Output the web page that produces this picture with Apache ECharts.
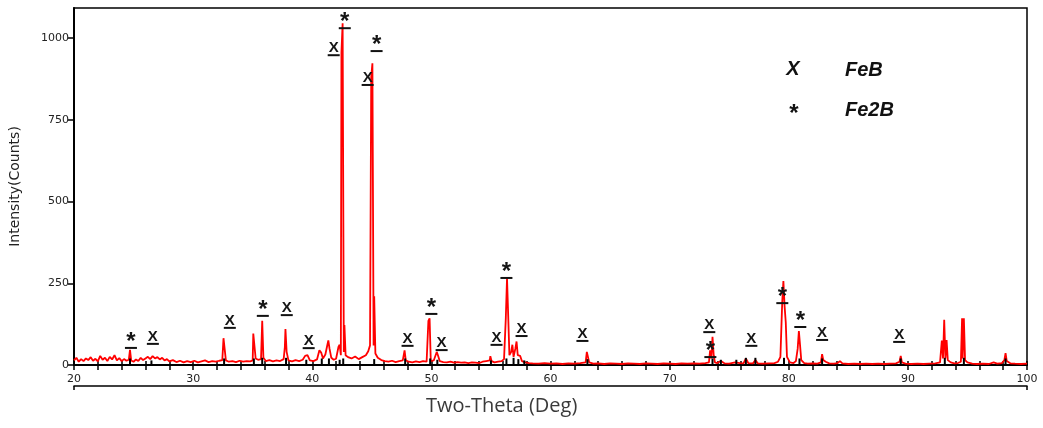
<!DOCTYPE html>
<html>
<head>
<meta charset="utf-8">
<script src="https://cdn.jsdelivr.net/npm/echarts@6/dist/echarts.min.js"></script>
<style>
  html, body { margin: 0; padding: 0; background: #fff; }
  #xrd { width: 1043px; height: 428px; }
</style>
</head>
<body>
<div id="xrd"></div>
<script>
var scanLow = [
  [20.0,14],[20.2,22],[20.4,10],[20.6,18],[20.8,12],[21.0,20],[21.2,15],[21.4,24],[21.6,13],[21.8,19],
  [22.0,11],[22.2,28],[22.4,16],[22.6,22],[22.8,12],[23.0,25],[23.2,17],[23.4,30],[23.6,14],[23.8,21],
  [24.0,12],[24.2,18],[24.4,13],[24.6,16],[24.7,46],[24.8,14],[25.0,10],[25.2,17],[25.4,12],[25.6,22],
  [25.8,15],[26.0,20],[26.2,25],[26.4,18],[26.6,27],[26.8,20],[27.0,24],[27.2,17],[27.4,22],[27.6,14],
  [27.8,18],[28.0,11],[28.3,15],[28.6,9],[28.9,13],[29.2,8],[29.5,12],[29.8,9],[30.1,13],[30.4,8],
  [30.7,11],[31.0,14],[31.3,9],[31.6,12],[31.9,10],[32.2,13],[32.45,15],[32.55,82],[32.65,86],[32.75,14],
  [33.0,10],[33.3,12],[33.6,9],[33.9,13],[34.2,10],[34.5,12],[34.8,11],[35.0,14],[35.05,96],[35.15,100],
  [35.25,20],[35.45,16],[35.7,18],[35.8,135],[35.9,22],[36.1,12],[36.4,15],[36.7,11],[37.0,14],[37.3,12],
  [37.6,18],[37.7,55],[37.75,110],[37.85,40],[38.0,14],[38.3,11],[38.6,15],[38.9,12],[39.2,16],[39.4,28],
  [39.6,30],[39.8,14],[40.1,12],[40.4,17],[40.6,45],[40.75,38],[40.9,20],[41.1,32],[41.25,58],[41.35,75],
  [41.45,50],[41.6,22],[41.8,16],[42.0,19],[42.2,55],[42.3,62],[42.4,30],[42.45,955],[42.55,1045],[42.65,40],
  [42.7,122],[42.8,30],[43.0,24],[43.3,20],[43.6,26],[43.9,18],[44.2,24],[44.5,30],[44.7,42],[44.85,60],
  [44.95,880],[45.05,923],[45.15,60],[45.2,210],[45.3,35],[45.5,22],[45.8,15],[46.1,12]
];
var scanMid = [
  [46.4,10],[46.7,13],[47.0,9],[47.3,12],[47.6,14],[47.75,45],[47.85,14],[48.1,10],[48.4,8],[48.7,11],
  [49.0,9],[49.3,12],[49.6,10],[49.75,135],[49.85,143],[49.95,12],[50.2,14],[50.45,40],[50.55,30],[50.7,12],
  [51.0,9],[51.3,8],[51.6,10],[51.9,7],[52.2,9],[52.5,7],[52.8,8],[53.1,6],[53.4,8],[53.7,7],
  [54.0,6],[54.3,10],[54.6,12],[54.9,14],[54.95,27],[55.05,12],[55.3,8],[55.6,10],[55.9,12],[56.1,18],
  [56.25,145],[56.35,265],[56.45,150],[56.55,30],[56.7,40],[56.8,62],[56.9,25],[57.05,50],[57.15,72],[57.25,30],
  [57.45,28],[57.6,12],[57.9,8],[58.2,6],[58.5,5],[59.0,4],[59.5,6],[60.0,4],[60.5,5],[61.0,3],
  [61.5,5],[62.0,4],[62.5,6],[62.95,8],[63.05,40],[63.15,38],[63.25,8],[63.6,4],[64.0,5],[64.5,3],
  [65.0,5],[65.5,4],[66.0,3],[66.5,5],[67.0,4],[67.5,3],[68.0,5],[68.5,4],[69.0,3],[69.5,5],
  [70.0,4],[70.5,3],[71.0,5],[71.5,4],[72.0,5],[72.5,4],[73.0,6]
];
var scanHigh = [
  [73.3,8],[73.4,45],[73.5,20],[73.6,86],[73.7,30],[73.8,8],[74.0,6],[74.3,12],[74.6,5],[75.0,4],
  [75.5,8],[75.9,6],[76.2,5],[76.4,20],[76.6,6],[77.0,5],[77.2,15],[77.4,5],[77.8,4],[78.3,5],
  [78.8,6],[79.1,10],[79.3,25],[79.45,190],[79.55,257],[79.65,180],[79.75,130],[79.85,25],[80.1,8],[80.4,6],
  [80.6,12],[80.75,50],[80.85,104],[80.95,60],[81.05,15],[81.3,6],[81.6,4],[82.0,5],[82.4,4],[82.7,8],
  [82.8,33],[82.9,15],[83.1,10],[83.4,5],[83.8,4],[84.1,6],[84.3,12],[84.5,5],[85.0,3],[85.5,4],
  [86.0,3],[86.5,4],[87.0,3],[87.5,4],[88.0,3],[88.5,4],[89.0,5],[89.3,10],[89.4,28],[89.5,8],
  [89.8,4],[90.3,3],[90.8,4],[91.3,3],[91.8,4],[92.3,5],[92.7,8],[92.85,75],[92.95,20],[93.05,138],
  [93.15,20],[93.25,76],[93.35,15],[93.6,8],[93.9,5],[94.2,6],[94.45,10],[94.55,143],[94.6,20],[94.7,143],
  [94.8,15],[95.0,8],[95.4,4],[95.8,3],[96.3,4],[96.8,3],[97.2,8],[97.5,4],[97.9,6],[98.1,15],
  [98.2,36],[98.3,12],[98.6,5],[99.0,4],[99.5,3],[100.0,4]
];

// black reference sticks at the base
var refSticks = [
  [24.7,20],[26.5,14],[32.6,20],[35.1,20],[35.8,22],[37.8,22],[39.5,16],[40.8,20],[41.4,20],[42.3,16],
  [42.6,20],[45.2,18],[47.8,20],[49.9,20],[50.5,16],[55.0,14],[56.3,20],[56.9,22],[57.3,18],[57.8,14],
  [63.1,18],[73.6,20],[74.3,16],[75.6,16],[76.4,22],[77.2,22],[79.6,22],[80.9,20],[82.8,20],[89.4,20],
  [93.1,22],[94.7,22],[98.2,20]
];

// phase markers, [2theta, counts] of the glyph centre
var febMarks = [
  [26.62,86],[33.08,135],[37.86,174],[39.7,73],[41.8,969],[44.65,878],[48.0,80],[50.86,67],
  [55.47,83],[57.57,110],[62.68,95],[73.33,122],[76.86,80],[82.8,98],[89.27,92]
];
var fe2bMarks = [
  [24.78,92],[35.85,190],[42.73,1070],[45.4,1000],[50.0,196],[56.3,306],[73.42,64],[79.46,229],[80.97,156]
];

var yTicks = [0, 250, 500, 750, 1000];
var xLabels = [20, 30, 40, 50, 60, 70, 80, 90, 100];

var scan = scanLow.concat(scanMid, scanHigh);

function markRenderer(glyph, font, dy, barGap, barHalf) {
  return function (params, api) {
    var p = api.coord([api.value(0), api.value(1)]);
    return {
      type: 'group',
      children: [
        { type: 'text', x: p[0], y: p[1] + dy,
          style: { text: glyph, font: font, fill: '#151515', align: 'center', verticalAlign: 'middle' } },
        { type: 'line',
          shape: { x1: p[0] - barHalf, y1: p[1] + barGap, x2: p[0] + barHalf, y2: p[1] + barGap },
          style: { stroke: '#111', lineWidth: 2 } }
      ]
    };
  };
}

var chart = echarts.init(document.getElementById('xrd'), null, { renderer: 'canvas' });
var option = {
  animation: false,
  backgroundColor: '#fff',
  grid: { left: 74, right: 16, top: 8, bottom: 63, show: true, borderColor: '#000', borderWidth: 1.5 },
  xAxis: [
    {
      type: 'value', min: 20, max: 100, interval: 2,
      axisLine: { lineStyle: { color: '#000', width: 2 } },
      axisTick: { length: 5, lineStyle: { color: '#000', width: 1.5 } },
      axisLabel: {
        margin: 9, color: '#222', fontFamily: 'DejaVu Sans', fontSize: 11,
        formatter: function (v) { return xLabels.indexOf(v) >= 0 ? String(v) : ''; }
      },
      splitLine: { show: false }
    },
    {
      type: 'value', min: 20, max: 100, interval: 2, position: 'bottom',
      axisLine: { show: false },
      axisTick: { inside: true, length: 4, lineStyle: { color: '#000', width: 1.5 } },
      axisLabel: { show: false },
      splitLine: { show: false }
    },
    {
      type: 'value', min: 20, max: 100, interval: 80, position: 'bottom', offset: 21,
      axisLine: { lineStyle: { color: '#000', width: 1.5 } },
      axisTick: { length: 4, customValues: [20, 100], lineStyle: { color: '#000', width: 1.5 } },
      axisLabel: { show: false },
      splitLine: { show: false }
    }
  ],
  yAxis: {
    type: 'value', min: 0, max: 1092,
    name: 'Intensity(Counts)', nameLocation: 'middle', nameGap: 52,
    nameTextStyle: { fontFamily: 'DejaVu Sans', fontSize: 14, color: '#222' },
    axisLine: { show: true, lineStyle: { color: '#000', width: 2 } },
    axisTick: { show: true, length: 6, customValues: yTicks, lineStyle: { color: '#000', width: 1.5 } },
    axisLabel: {
      customValues: yTicks, margin: 5, color: '#222', fontFamily: 'DejaVu Sans', fontSize: 11,
      formatter: function (v) { return String(v); }
    },
    splitLine: { show: false }
  },
  graphic: [
    { type: 'text', left: 426, top: 396,
      style: { text: 'Two-Theta (Deg)', font: '20px "Open Sans"', fill: '#3a3a3a' } },
    { type: 'text', x: 793, y: 69,
      style: { text: 'X', font: 'italic bold 20px "Liberation Sans"', fill: '#111', align: 'center', verticalAlign: 'middle' } },
    { type: 'text', x: 845, y: 70,
      style: { text: 'FeB', font: 'italic bold 20px "Liberation Sans"', fill: '#111', verticalAlign: 'middle' } },
    { type: 'text', x: 794, y: 114,
      style: { text: '*', font: 'bold 24px "Liberation Sans"', fill: '#111', align: 'center', verticalAlign: 'middle' } },
    { type: 'text', x: 845, y: 110,
      style: { text: 'Fe2B', font: 'italic bold 20px "Liberation Sans"', fill: '#111', verticalAlign: 'middle' } }
  ],
  series: [
    {
      type: 'line', data: scan, symbol: 'none', z: 2,
      lineStyle: { color: '#ff0000', width: 1.8 }
    },
    {
      type: 'bar', data: refSticks, barWidth: 2, z: 3,
      itemStyle: { color: '#000' }
    },
    {
      type: 'custom', data: febMarks, z: 4,
      renderItem: markRenderer('X', 'bold 15px "Liberation Sans"', 0, 7, 6)
    },
    {
      type: 'custom', data: fe2bMarks, z: 4,
      renderItem: markRenderer('*', 'bold 24px "Liberation Sans"', 7, 13, 6)
    }
  ]
};
chart.setOption(option);
</script>
</body>
</html>
